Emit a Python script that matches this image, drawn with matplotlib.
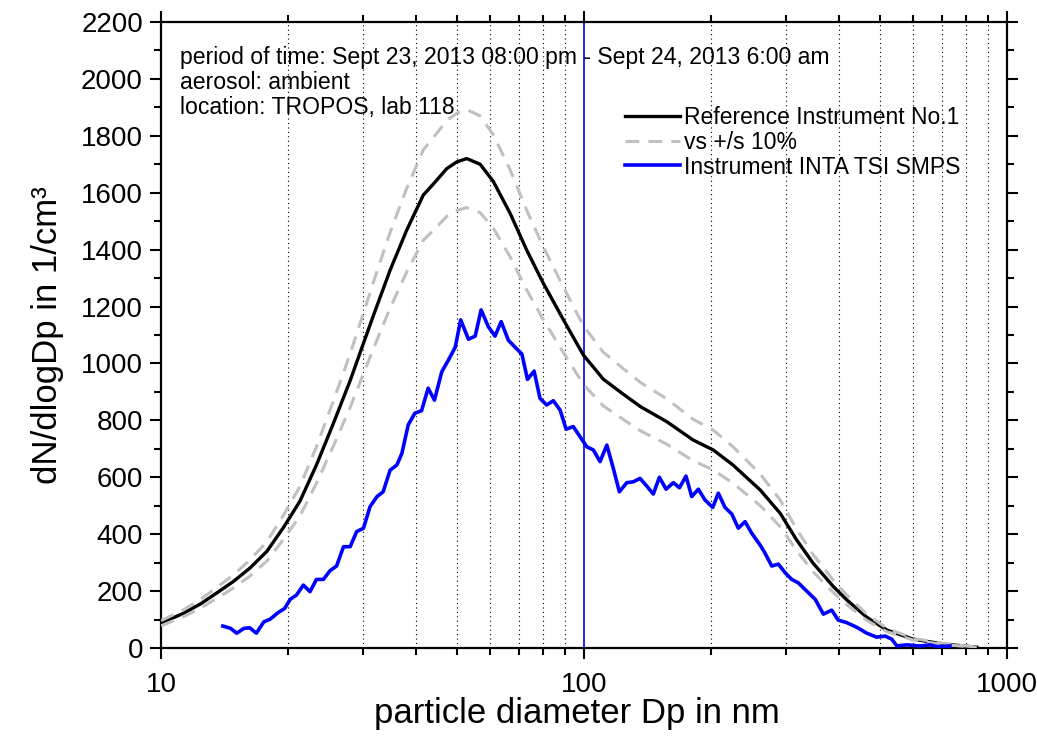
import matplotlib
matplotlib.use('Agg')
import matplotlib.pyplot as plt
from matplotlib.ticker import MultipleLocator, LogLocator, NullFormatter

plt.rcParams['font.family'] = ['Liberation Sans', 'DejaVu Sans']

# reference instrument (black) and its +/- 10% band (grey dashed)
x_ref = [10.0, 11.3, 12.4, 13.5, 14.8, 16.2, 17.8, 19.5, 21.3, 23.3, 25.5, 28.0, 30.1, 31.8, 34.8, 38.1,
         41.7, 44.0, 47.4, 50.0, 52.8, 56.8, 61.0, 66.9, 73.2, 80.1, 89.4, 99.6, 111, 123, 136, 157,
         181, 202, 225, 261, 291, 318, 348, 389, 418, 466, 520, 600, 694, 788, 848]
y_ref = [87, 122, 155, 192, 233, 280, 340, 425, 516, 643, 786, 940, 1071, 1170, 1328, 1469,
         1592, 1630, 1685, 1708, 1720, 1700, 1640, 1527, 1398, 1282, 1153, 1030, 945, 895, 848, 795,
         731, 696, 643, 555, 473, 380, 298, 215, 169, 108, 63, 31, 16, 7, 3]
y_ref_hi = [96, 134, 171, 211, 256, 308, 374, 468, 568, 707, 865, 1034, 1178, 1287, 1461, 1616,
            1751, 1793, 1854, 1879, 1892, 1870, 1804, 1680, 1538, 1410, 1268, 1133, 1040, 985, 933, 875,
            804, 766, 707, 611, 520, 418, 328, 237, 186, 119, 69, 34, 18, 8, 3]
y_ref_lo = [78, 110, 140, 173, 210, 252, 306, 383, 464, 579, 707, 846, 964, 1053, 1195, 1322,
            1433, 1467, 1517, 1537, 1548, 1530, 1476, 1374, 1258, 1154, 1038, 927, 851, 806, 763, 716,
            658, 626, 579, 500, 426, 342, 268, 194, 152, 97, 57, 28, 14, 6, 3]

# INTA TSI SMPS (blue)
x_smps = [14.0, 14.6, 15.1, 15.7, 16.2, 16.8, 17.5, 18.1, 18.9, 19.6,
          20.2, 20.9, 21.7, 22.5, 23.3, 24.2, 25.1, 26.0, 27.0, 28.0,
          29.0, 30.1, 31.2, 32.4, 33.5, 34.8, 36.1, 37.1, 38.4, 39.8,
          41.3, 42.8, 44.3, 46.1, 47.8, 49.6, 51.1, 53.3, 55.3, 57.1,
          59.4, 61.6, 63.7, 66.2, 68.7, 71.3, 73.5, 76.2, 78.7, 81.6,
          84.6, 87.8, 90.7, 94.3, 97.8, 101.5, 105.2, 109.1, 113.2, 117.3,
          121.2, 126.2, 130.8, 135.6, 140.7, 145.8, 150.7, 156.3, 162.6, 168.1,
          174.2, 179.7, 186.3, 193.2, 201.5, 207.7, 215.4, 223.5, 231.6, 240.2,
          249.2, 260.7, 267.9, 277.8, 287.9, 298.6, 309.7, 321.0, 336, 352,
          368, 385, 399, 418, 441, 466, 492, 515, 534, 549,
          579, 622, 658, 682, 733]
y_smps = [77, 69, 52, 69, 71, 52, 92, 101, 124, 139,
          171, 186, 221, 198, 241, 241, 272, 288, 356, 356,
          409, 421, 497, 532, 549, 625, 643, 684, 784, 825,
          834, 913, 871, 971, 1012, 1057, 1153, 1085, 1096, 1188,
          1129, 1096, 1147, 1082, 1057, 1033, 944, 973, 877, 854,
          869, 836, 769, 778, 743, 707, 696, 655, 713, 631,
          549, 581, 584, 596, 569, 541, 600, 558, 581, 563,
          604, 532, 558, 520, 494, 544, 494, 471, 421, 444,
          403, 362, 333, 288, 295, 265, 241, 229, 200, 171,
          119, 133, 98, 89, 73, 52, 38, 42, 31, 7,
          11, 7, 11, 5, 7]

info_lines = ['period of time: Sept 23, 2013 08:00 pm - Sept 24, 2013 6:00 am',
              'aerosol: ambient',
              'location: TROPOS, lab 118']

fig = plt.figure(figsize=(10.37, 7.42), dpi=100)
ax = fig.add_axes([0.1553, 0.1267, 0.8158, 0.8437])

ax.set_xscale('log')
ax.set_xlim(10, 1000)
ax.set_ylim(0, 2200)

# dotted grid on the minor decades only
for dec in (10, 100):
    for k in range(2, 10):
        ax.axvline(dec * k, color='black', linestyle=(0, (1, 3)), linewidth=0.8, zorder=1)
ax.axvline(100, color='#0000ff', linewidth=1.2, zorder=2)

ax.plot(x_ref, y_ref, color='black', linewidth=2.4, label='Reference Instrument No.1', zorder=3)
ax.plot(x_ref, y_ref_hi, color='#c0c0c0', linewidth=2.2, dashes=(4.5, 3), label='vs +/s 10%', zorder=4)
ax.plot(x_ref, y_ref_lo, color='#c0c0c0', linewidth=2.2, dashes=(4.5, 3), zorder=4)
ax.plot(x_smps, y_smps, color='#0000ff', linewidth=2.6, label='Instrument INTA TSI SMPS', zorder=5)

# info block, one text per line
for line, ypos in zip(info_lines, [0.944, 0.903, 0.863]):
    ax.text(0.0225, ypos, line, transform=ax.transAxes, fontsize=16.6, va='center', ha='left')

ax.legend(loc='upper left', bbox_to_anchor=(0.549, 0.866), frameon=False, fontsize=16.5,
          handlelength=2.4, handletextpad=0.15, labelspacing=0.08, borderpad=0, borderaxespad=0)

ax.set_xticks([10, 100, 1000])
ax.set_xticklabels(['10', '100', '1000'])
ax.xaxis.set_minor_locator(LogLocator(base=10, subs=range(2, 10)))
ax.xaxis.set_minor_formatter(NullFormatter())
ax.yaxis.set_major_locator(MultipleLocator(200))
ax.yaxis.set_minor_locator(MultipleLocator(100))

ax.tick_params(which='both', direction='out', top=True, right=True, width=1.5, labelsize=20)
ax.tick_params(which='major', length=8)
ax.tick_params(which='minor', length=5)
ax.tick_params(axis='x', which='major', pad=9)
ax.tick_params(axis='y', which='major', pad=5)
for s in ax.spines.values():
    s.set_linewidth(1.6)

ax.set_xlabel('particle diameter Dp in nm', fontsize=25)
ax.xaxis.set_label_coords(0.492, -0.078)
ax.set_ylabel('dN/dlogDp in 1/cm³', fontsize=25, labelpad=12)

fig.savefig('out.png', dpi=100)
